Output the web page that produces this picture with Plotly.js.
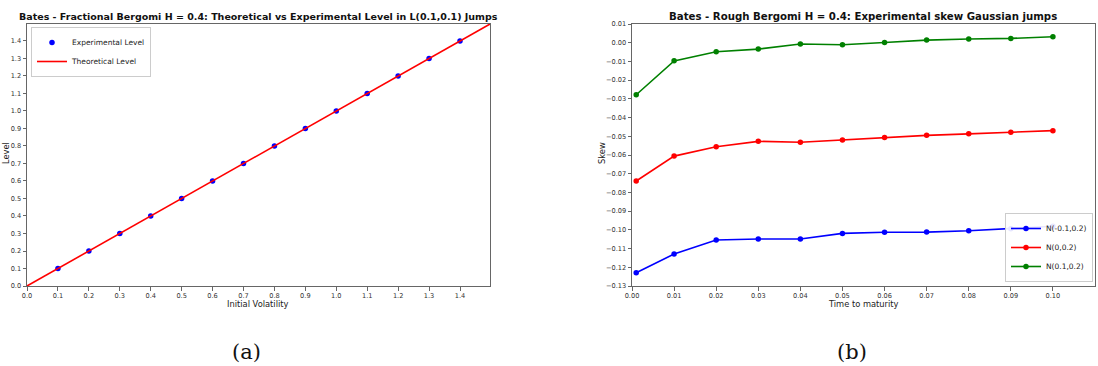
<!DOCTYPE html>
<html><head><meta charset="utf-8">
<script src="https://cdn.plot.ly/plotly-3.0.1.min.js"></script>
<style>html,body{margin:0;padding:0;background:#fff}#c{width:1098px;height:366px}</style>
</head><body><div id="c"></div>
<script>
// Panel (a)
const volX = [0.1,0.2,0.3,0.4,0.5,0.6,0.7,0.8,0.9,1.0,1.1,1.2,1.3,1.4];
const expLevel = [0.1,0.2,0.3,0.4,0.5,0.6,0.7,0.8,0.9,1.0,1.1,1.2,1.3,1.4];
const theoX = [0.0,1.5];
const theoLevel = [0.0,1.5];
// Panel (b)
const maturity = [0.001,0.01,0.02,0.03,0.04,0.05,0.06,0.07,0.08,0.09,0.10];
const skewNeg = [-0.1229,-0.1129,-0.1054,-0.1049,-0.1049,-0.1019,-0.1013,-0.1012,-0.1005,-0.0994,-0.0981];
const skewZero = [-0.0739,-0.0606,-0.0556,-0.0527,-0.0532,-0.0520,-0.0506,-0.0495,-0.0487,-0.0478,-0.0470];
const skewPos = [-0.0278,-0.0097,-0.0048,-0.0034,-0.0007,-0.0011,0.0001,0.0014,0.0020,0.0023,0.0032];
const volTicks = [0.0,0.1,0.2,0.3,0.4,0.5,0.6,0.7,0.8,0.9,1.0,1.1,1.2,1.3,1.4];
const matTicks = [0.00,0.01,0.02,0.03,0.04,0.05,0.06,0.07,0.08,0.09,0.10];
const skewTicks = [0.01,0.00,-0.01,-0.02,-0.03,-0.04,-0.05,-0.06,-0.07,-0.08,-0.09,-0.10,-0.11,-0.12,-0.13];

const W=1098,H=366;
const px = v=>v/W, py = v=>1-v/H;
const F = "DejaVu Sans, sans-serif";
const tickFont = {family:F,size:6.6,color:'#333'};
const axBase = {showline:true,mirror:true,linecolor:'#666',linewidth:1,ticks:'outside',ticklen:3.5,tickcolor:'#666',
  showgrid:false,zeroline:false,tickfont:tickFont,fixedrange:true};
const labFont = {family:F,size:8.3,color:'#222'};

const traces = [
 {x:volX,y:expLevel,type:'scatter',mode:'markers',name:'Experimental Level',marker:{color:'#0000ff',size:5.5},xaxis:'x',yaxis:'y',legend:'legend'},
 {x:theoX,y:theoLevel,type:'scatter',mode:'lines',name:'Theoretical Level',line:{color:'#ff0000',width:1.6},xaxis:'x',yaxis:'y',legend:'legend'},
 {x:maturity,y:skewNeg,type:'scatter',mode:'lines+markers',name:'N(-0.1,0.2)',line:{color:'#0000ff',width:1.6},marker:{color:'#0000ff',size:5.5},xaxis:'x2',yaxis:'y2',legend:'legend2'},
 {x:maturity,y:skewZero,type:'scatter',mode:'lines+markers',name:'N(0,0.2)',line:{color:'#ff0000',width:1.6},marker:{color:'#ff0000',size:5.5},xaxis:'x2',yaxis:'y2',legend:'legend2'},
 {x:maturity,y:skewPos,type:'scatter',mode:'lines+markers',name:'N(0.1,0.2)',line:{color:'#008000',width:1.6},marker:{color:'#008000',size:5.5},xaxis:'x2',yaxis:'y2',legend:'legend2'}
];

const ann = (text,x,y,font,extra)=>Object.assign({text,xref:'paper',yref:'paper',x:px(x),y:py(y),xanchor:'center',yanchor:'middle',showarrow:false,font},extra||{});

const layout = {
 width:W,height:H,margin:{l:0,r:0,t:0,b:0},paper_bgcolor:'#fff',plot_bgcolor:'#fff',showlegend:true,
 font:{family:F,color:'#222'},
 xaxis:Object.assign({},axBase,{domain:[px(27),px(490)],range:[0,1.497],tickvals:volTicks,tickformat:'.1f',anchor:'y'}),
 yaxis:Object.assign({},axBase,{domain:[py(286),py(24)],range:[0,1.497],tickvals:volTicks,tickformat:'.1f',anchor:'x'}),
 xaxis2:Object.assign({},axBase,{domain:[px(632),px(1095)],range:[0,0.11],tickvals:matTicks,tickformat:'.2f',anchor:'y2'}),
 yaxis2:Object.assign({},axBase,{domain:[py(286),py(24)],range:[-0.13,0.01],tickvals:skewTicks,tickformat:'.2f',anchor:'x2'}),
 legend:{x:px(31),y:py(27),xanchor:'left',yanchor:'top',bgcolor:'rgba(255,255,255,0.9)',bordercolor:'#ccc',borderwidth:1,
   font:{family:F,size:7.5,color:'#222'},tracegroupgap:0,itemwidth:30},
 legend2:{x:px(1093),y:py(282),xanchor:'right',yanchor:'bottom',bgcolor:'rgba(255,255,255,0.9)',bordercolor:'#ccc',borderwidth:1,
   font:{family:F,size:7.5,color:'#222'},tracegroupgap:0,itemwidth:30},
 annotations:[
  ann('<b>Bates - Fractional Bergomi H = 0.4: Theoretical vs Experimental Level in L(0.1,0.1) Jumps</b>',258,16,{family:F,size:9.5,color:'#111'}),
  ann('<b>Bates - Rough Bergomi H = 0.4: Experimental skew Gaussian jumps</b>',863,16,{family:F,size:10.2,color:'#111'}),
  ann('Initial Volatility',258,304,labFont),
  ann('Time to maturity',863,304,labFont),
  ann('Level',6,153,labFont,{textangle:-90}),
  ann('Skew',602,153,labFont,{textangle:-90}),
  ann('(a)',246,352,{family:'DejaVu Serif, Liberation Serif, serif',size:21,color:'#111'}),
  ann('(b)',852,352,{family:'DejaVu Serif, Liberation Serif, serif',size:21,color:'#111'})
 ]
};
Plotly.newPlot('c',traces,layout,{staticPlot:true,displayModeBar:false});
</script></body></html>
